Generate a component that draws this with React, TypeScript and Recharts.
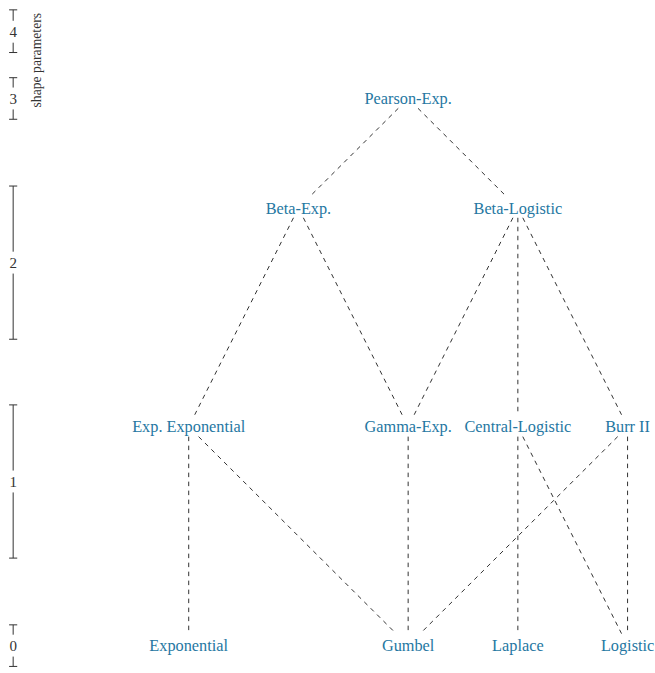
import { ScatterChart, Scatter, XAxis, YAxis, ReferenceLine } from 'recharts';

// Distribution family diagram: nodes by column / level row
const nodeNames = [
  'Exponential', 'Gumbel', 'Laplace', 'Logistic',
  'Exp. Exponential', 'Gamma-Exp.', 'Central-Logistic', 'Burr II',
  'Beta-Exp.', 'Beta-Logistic',
  'Pearson-Exp.',
];
const nodeCol = [0, 2, 3, 4, 0, 2, 3, 4, 1, 3, 2];
const nodeRow = [0, 0, 0, 0, 2, 2, 2, 2, 4, 4, 5];

// Edges (parent -> child)
const edgeFrom = [
  'Pearson-Exp.', 'Pearson-Exp.',
  'Beta-Exp.', 'Beta-Exp.',
  'Beta-Logistic', 'Beta-Logistic', 'Beta-Logistic',
  'Exp. Exponential', 'Exp. Exponential',
  'Gamma-Exp.',
  'Central-Logistic', 'Central-Logistic',
  'Burr II', 'Burr II',
];
const edgeTo = [
  'Beta-Exp.', 'Beta-Logistic',
  'Exp. Exponential', 'Gamma-Exp.',
  'Gamma-Exp.', 'Central-Logistic', 'Burr II',
  'Exponential', 'Gumbel',
  'Gumbel',
  'Laplace', 'Logistic',
  'Gumbel', 'Logistic',
];

// Left axis: number of shape parameters
const levelLabels = ['0', '1', '2', '3', '4'];
const levelMid = [0, 1.5, 3.5, 5, 5.61];
const levelLow = [-0.19, 0.8, 2.8, 4.81, 5.42];
const levelHigh = [0.19, 2.2, 4.2, 5.19, 5.81];
const axisTitle = 'shape parameters';

const AXIS_X = -1.6;
const TICK_HALF = 0.037;
const LABEL_GAP = 0.1;
const LINK = '#333';
const BLUE = '#2577a2';
const SERIF = "'Liberation Serif', 'DejaVu Serif', serif";

const nodes = nodeNames.map((name, i) => ({ x: nodeCol[i], y: nodeRow[i], name }));
const byName = (n: string) => nodes.find((d) => d.name === n)!;

// shorten each edge so it stops short of the labels
const edges = edgeFrom.map((f, i) => {
  const a = byName(f);
  const b = byName(edgeTo[i]);
  const dy = a.y - b.y;
  const t0 = 0.09 / dy;
  const t1 = 1 - 0.11 / dy;
  return [
    { x: a.x + (b.x - a.x) * t0, y: a.y + (b.y - a.y) * t0 },
    { x: a.x + (b.x - a.x) * t1, y: a.y + (b.y - a.y) * t1 },
  ];
});

const levels = levelLabels.map((label, i) => ({ x: AXIS_X, y: levelMid[i], label }));

const NodeLabel = (p: any) => (
  <text x={p.cx} y={p.cy} dy="0.35em" textAnchor="middle" fill={BLUE} fontSize={16.3} fontFamily={SERIF}>
    {p.payload.name}
  </text>
);

const LevelLabel = (p: any) => (
  <text x={p.cx} y={p.cy} dy="0.35em" textAnchor="middle" fill="#333" fontSize={15} fontFamily={SERIF}>
    {p.payload.label}
  </text>
);

const TitleLabel = (p: any) => (
  <text
    x={p.cx}
    y={p.cy}
    dy="0.35em"
    textAnchor="middle"
    fill="#333"
    fontSize={13.7}
    fontFamily={SERIF}
    transform={`rotate(-90, ${p.cx}, ${p.cy})`}
  >
    {p.payload.label}
  </text>
);

export default function App() {
  return (
    <div style={{ width: 655, height: 673, background: '#fff' }}>
      <style>{'body{margin:0}'}</style>
      <ScatterChart width={655} height={673} margin={{ top: 0, right: 0, bottom: 0, left: 0 }}>
        <XAxis type="number" dataKey="x" domain={[-1.72, 4.25]} hide />
        <YAxis type="number" dataKey="y" domain={[-0.25, 5.9]} hide />

        {edges.map((seg, i) => (
          <ReferenceLine
            key={`e-${i}`}
            segment={seg}
            stroke={LINK}
            strokeWidth={1}
            strokeDasharray="4.5 4.5"
            ifOverflow="visible"
          />
        ))}

        {/* bracket per level: two halves with a gap for the label, plus end ticks */}
        {levelLabels.map((_, i) => (
          <ReferenceLine
            key={`lt-${i}`}
            segment={[{ x: AXIS_X, y: levelHigh[i] }, { x: AXIS_X, y: levelMid[i] + LABEL_GAP }]}
            stroke="#333"
            strokeWidth={1}
            ifOverflow="visible"
          />
        ))}
        {levelLabels.map((_, i) => (
          <ReferenceLine
            key={`lb-${i}`}
            segment={[{ x: AXIS_X, y: levelMid[i] - LABEL_GAP }, { x: AXIS_X, y: levelLow[i] }]}
            stroke="#333"
            strokeWidth={1}
            ifOverflow="visible"
          />
        ))}
        {levelLabels.map((_, i) => (
          <ReferenceLine
            key={`th-${i}`}
            segment={[{ x: AXIS_X - TICK_HALF, y: levelHigh[i] }, { x: AXIS_X + TICK_HALF, y: levelHigh[i] }]}
            stroke="#333"
            strokeWidth={1}
            ifOverflow="visible"
          />
        ))}
        {levelLabels.map((_, i) => (
          <ReferenceLine
            key={`tl-${i}`}
            segment={[{ x: AXIS_X - TICK_HALF, y: levelLow[i] }, { x: AXIS_X + TICK_HALF, y: levelLow[i] }]}
            stroke="#333"
            strokeWidth={1}
            ifOverflow="visible"
          />
        ))}

        <Scatter data={levels} shape={LevelLabel} isAnimationActive={false} />
        <Scatter data={[{ x: -1.39, y: 5.35, label: axisTitle }]} shape={TitleLabel} isAnimationActive={false} />
        <Scatter data={nodes} shape={NodeLabel} isAnimationActive={false} />
      </ScatterChart>
    </div>
  );
}
